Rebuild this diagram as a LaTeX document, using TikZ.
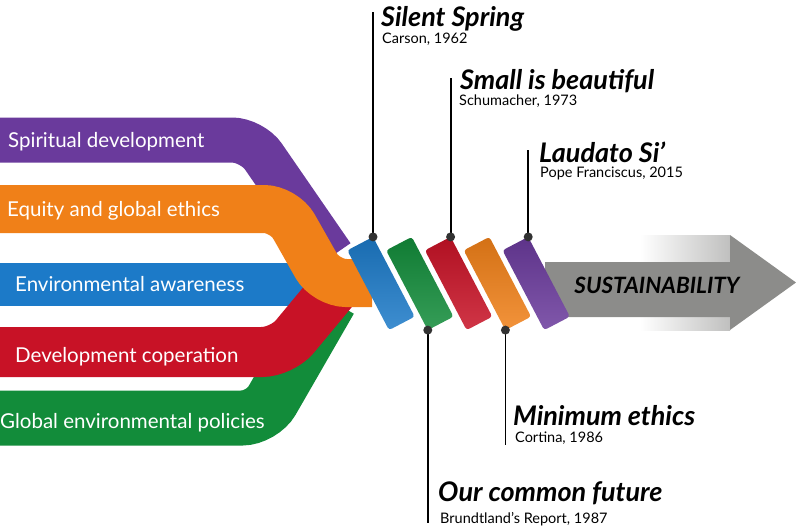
\documentclass[tikz,border=0pt]{standalone}
\usepackage{fontspec}
\setmainfont{Lato}

\definecolor{cpurple}{RGB}{106,58,156}
\definecolor{corange}{RGB}{240,128,24}
\definecolor{cblue}{RGB}{28,122,200}
\definecolor{cred}{RGB}{200,18,38}
\definecolor{cgreen}{RGB}{18,140,58}
\definecolor{cgray}{RGB}{140,140,138}
\definecolor{cpin}{RGB}{50,50,50}

\tikzset{
  band/.style={line width=#1, rounded corners=20pt},
  bandlabel/.style={anchor=west, inner sep=0pt, text=white, font=\fontsize{20.5}{20.5}\selectfont},
  cyl/.style={rectangle, rounded corners=3pt, minimum width=90pt, minimum height=29pt,
    inner sep=0pt, outer sep=0pt, rotate=-62.4},
  pinline/.style={draw=black, line width=1.8pt},
  title/.style={anchor=base west, inner sep=0pt, font=\fontsize{27}{27}\selectfont\bfseries\itshape},
  source/.style={anchor=base west, inner sep=0pt, font=\fontsize{14.5}{14.5}\selectfont},
}

\begin{document}
\begin{tikzpicture}[x=1pt, y=-1pt]
  \useasboundingbox (0,0) rectangle (796,530);

  % the five strands
  \draw[cgreen, band=55pt] (-10,418) -- (262,418) -- (330,300);
  \draw[cblue, band=43pt] (-10,284) -- (330,284);
  \draw[cred, band=50pt] (-10,352) -- (282,352) -- (336,287);
  \draw[cpurple, band=45pt] (-10,140) -- (252,140) -- (332,256);
  \draw[corange, band=48pt] (-10,209) -- (284,209) -- (326,283) -- (372,283);

  \node[bandlabel] (spiritual) at (8,142) {Spiritual development};
  \node[bandlabel] (equity) at (7,211) {Equity and global ethics};
  \node[bandlabel] (environ) at (15,284) {Environmental awareness};
  \node[bandlabel] (devcoop) at (15,357) {Development coperation};
  \node[bandlabel] (policies) at (0,423) {Global environmental policies};

  % arrow
  \shade[left color=white, right color=cgray!55] (640,235) rectangle (730,330);
  \fill[cgray] (545,262) -- (730,262) -- (730,235) -- (796,282.5) -- (730,330) -- (730,317) -- (545,317) -- cycle;
  \node[font=\fontsize{22.5}{22.5}\selectfont\bfseries\itshape] (sust) at (657,285) {SUSTAINABILITY};

  % milestones
  \foreach \c/\n [count=\i from 0] in {cblue/blue,cgreen/green,cred/red,corange/orange,cpurple/purple}
    \node[cyl, top color=\c!88!black, middle color=\c, bottom color=\c!85!white] (cyl\n) at ({381+38.8*\i},283.5) {};

  \coordinate (ssTop) at (cylblue.north west |- 0,12);
  \coordinate (sbTop) at (cylred.north west |- 0,78);
  \coordinate (lsTop) at (cylpurple.north west |- 0,150);
  \coordinate (ocfBot) at (cylgreen.south east |- 0,523);
  \coordinate (meBot) at (cylorange.south east |- 0,445);

  \draw[pinline] (cylblue.north west) -- (ssTop);
  \draw[pinline] (cylred.north west) -- (sbTop);
  \draw[pinline] (cylpurple.north west) -- (lsTop);
  \draw[pinline] (cylgreen.south east) -- (ocfBot);
  \draw[pinline] (cylorange.south east) -- (meBot);
  \foreach \p in {cylblue.north west,cylred.north west,cylpurple.north west,cylgreen.south east,cylorange.south east}
    \fill[cpin] (\p) circle (4.5pt);

  \node[title] (ssTitle) at (381,26) {Silent Spring};
  \node[source] (ssSrc) at (382,43) {Carson, 1962};
  \node[title] (sbTitle) at (460,89) {Small is beautiful};
  \node[source] (sbSrc) at (459,105) {Schumacher, 1973};
  \node[title] (lsTitle) at (539,162) {Laudato Si’};
  \node[source] (lsSrc) at (540,177) {Pope Franciscus, 2015};
  \node[title] (meTitle) at (513,425) {Minimum ethics};
  \node[source] (meSrc) at (515,442) {Cortina, 1986};
  \node[title] (ocfTitle) at (438,501) {Our common future};
  \node[source] (ocfSrc) at (440,523) {Brundtland’s Report, 1987};
\end{tikzpicture}
\end{document}
